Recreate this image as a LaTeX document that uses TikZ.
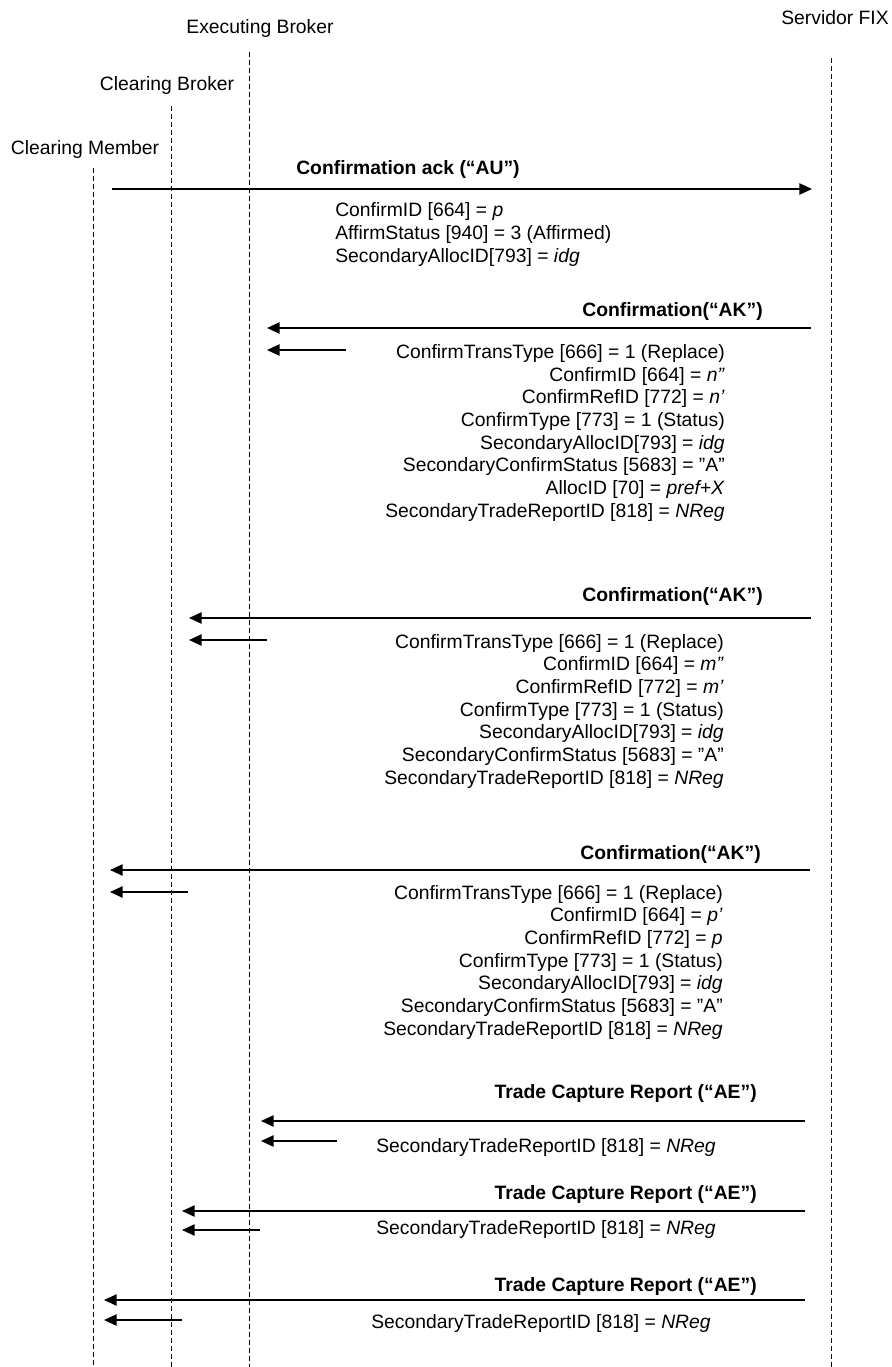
\documentclass[tikz,border=0pt]{standalone}
\usepackage{fontspec}
\setmainfont{Liberation Sans}
\usetikzlibrary{arrows.meta}

\begin{document}
\begin{tikzpicture}[x=0.75pt, y=-0.75pt, >={Triangle[length=9.5pt, width=8.5pt]},
    font=\fontsize{14.5}{17}\selectfont,
    life/.style={dash pattern=on 3.75pt off 2.25pt, line width=0.7pt},
    msg/.style={->, line width=1.1pt},
    head/.style={font=\fontsize{14.5}{17}\selectfont\bfseries, inner sep=0pt},
    info/.style={inner sep=0pt, align=right, anchor=base east}]
    \useasboundingbox (0,0) rectangle (892,1367);

    % participants
    \node[inner sep=0pt, anchor=base] (cm) at (85,154) {Clearing Member};
    \node[inner sep=0pt, anchor=base] (cb) at (167,90) {Clearing Broker};
    \node[inner sep=0pt, anchor=base] (eb) at (260,33) {Executing Broker};
    \node[inner sep=0pt, anchor=base east] (fix) at (889,24) {Servidor FIX};

    % lifelines
    \coordinate (cmtop) at (93,168);   \coordinate (cmbot) at (93,1367);
    \coordinate (cbtop) at (171,106);  \coordinate (cbbot) at (171,1367);
    \coordinate (ebtop) at (249,52);   \coordinate (ebbot) at (249,1367);
    \coordinate (fixtop) at (831,58);  \coordinate (fixbot) at (831,1367);
    \draw[life] (cmtop) -- (cmbot);
    \draw[life] (cbtop) -- (cbbot);
    \draw[life] (ebtop) -- (ebbot);
    \draw[life] (fixtop) -- (fixbot);

    % Confirmation ack AU (base = last line)
    \coordinate (a1s) at (112,189); \coordinate (a1k) at (191,189); \coordinate (a1e) at (812,189);
    \draw[msg] (a1s) -- (a1e);
    \draw[line width=1.6pt] (a1s) -- (a1k);
    \node[head, anchor=base west] (t1) at (296,174) {Confirmation ack (“AU”)};
    \node[info, align=left, anchor=base west, font=\fontsize{14.5}{17.25}\selectfont] (d1) at (335,262)
        {ConfirmID [664] = \textit{p}\\
         AffirmStatus [940] = 3 (Affirmed)\\
         SecondaryAllocID[793] = \textit{idg}};

    % Confirmation AK -> Executing Broker
    \coordinate (a2s) at (811,328); \coordinate (a2e) at (267,328);
    \coordinate (b2s) at (346,350); \coordinate (b2e) at (267,350);
    \draw[msg] (a2s) -- (a2e);
    \draw[msg] (b2s) -- (b2e);
    \node[head, anchor=base east] (t2) at (763,316) {Confirmation(“AK”)};
    \node[info] (d2) at (725,517)
        {ConfirmTransType [666] = 1 (Replace)\\
         ConfirmID [664] = \textit{n”}\\
         ConfirmRefID [772] = \textit{n’}\\
         ConfirmType [773] = 1 (Status)\\
         SecondaryAllocID[793] = \textit{idg}\\
         SecondaryConfirmStatus [5683] = ”A”\\
         AllocID [70] = \textit{pref+X}\\
         SecondaryTradeReportID [818] = \textit{NReg}};

    % Confirmation AK -> Clearing Broker
    \coordinate (a3s) at (811,618); \coordinate (a3e) at (189,618);
    \coordinate (b3s) at (267,640); \coordinate (b3e) at (189,640);
    \draw[msg] (a3s) -- (a3e);
    \draw[msg] (b3s) -- (b3e);
    \node[head, anchor=base east] (t3) at (763,601) {Confirmation(“AK”)};
    \node[info] (d3) at (724,784)
        {ConfirmTransType [666] = 1 (Replace)\\
         ConfirmID [664] = \textit{m”}\\
         ConfirmRefID [772] = \textit{m’}\\
         ConfirmType [773] = 1 (Status)\\
         SecondaryAllocID[793] = \textit{idg}\\
         SecondaryConfirmStatus [5683] = ”A”\\
         SecondaryTradeReportID [818] = \textit{NReg}};

    % Confirmation AK -> Clearing Member
    \coordinate (a4s) at (810,870); \coordinate (a4e) at (110,870);
    \coordinate (b4s) at (188,892); \coordinate (b4e) at (110,892);
    \draw[msg] (a4s) -- (a4e);
    \draw[msg] (b4s) -- (b4e);
    \node[head, anchor=base east] (t4) at (761,859) {Confirmation(“AK”)};
    \node[info] (d4) at (723,1035)
        {ConfirmTransType [666] = 1 (Replace)\\
         ConfirmID [664] = \textit{p’}\\
         ConfirmRefID [772] = \textit{p}\\
         ConfirmType [773] = 1 (Status)\\
         SecondaryAllocID[793] = \textit{idg}\\
         SecondaryConfirmStatus [5683] = ”A”\\
         SecondaryTradeReportID [818] = \textit{NReg}};

    % Trade Capture Report AE
    \coordinate (a5s) at (805,1121); \coordinate (a5e) at (261,1121);
    \coordinate (b5s) at (337,1141); \coordinate (b5e) at (261,1141);
    \draw[msg] (a5s) -- (a5e);
    \draw[msg] (b5s) -- (b5e);
    \node[head, anchor=base east] (t5) at (757,1098) {Trade Capture Report (“AE”)};
    \node[info, anchor=base west] (d5) at (376,1152) {SecondaryTradeReportID [818] = \textit{NReg}};

    \coordinate (a6s) at (805,1211); \coordinate (a6e) at (182,1211);
    \coordinate (b6s) at (260,1230); \coordinate (b6e) at (182,1230);
    \draw[msg] (a6s) -- (a6e);
    \draw[msg] (b6s) -- (b6e);
    \node[head, anchor=base east] (t6) at (757,1199) {Trade Capture Report (“AE”)};
    \node[info, anchor=base west] (d6) at (376,1234) {SecondaryTradeReportID [818] = \textit{NReg}};

    \coordinate (a7s) at (805,1300); \coordinate (a7e) at (104,1300);
    \coordinate (b7s) at (182,1320); \coordinate (b7e) at (104,1320);
    \draw[msg] (a7s) -- (a7e);
    \draw[msg] (b7s) -- (b7e);
    \node[head, anchor=base east] (t7) at (757,1291) {Trade Capture Report (“AE”)};
    \node[info, anchor=base west] (d7) at (371,1328) {SecondaryTradeReportID [818] = \textit{NReg}};
\end{tikzpicture}
\end{document}
